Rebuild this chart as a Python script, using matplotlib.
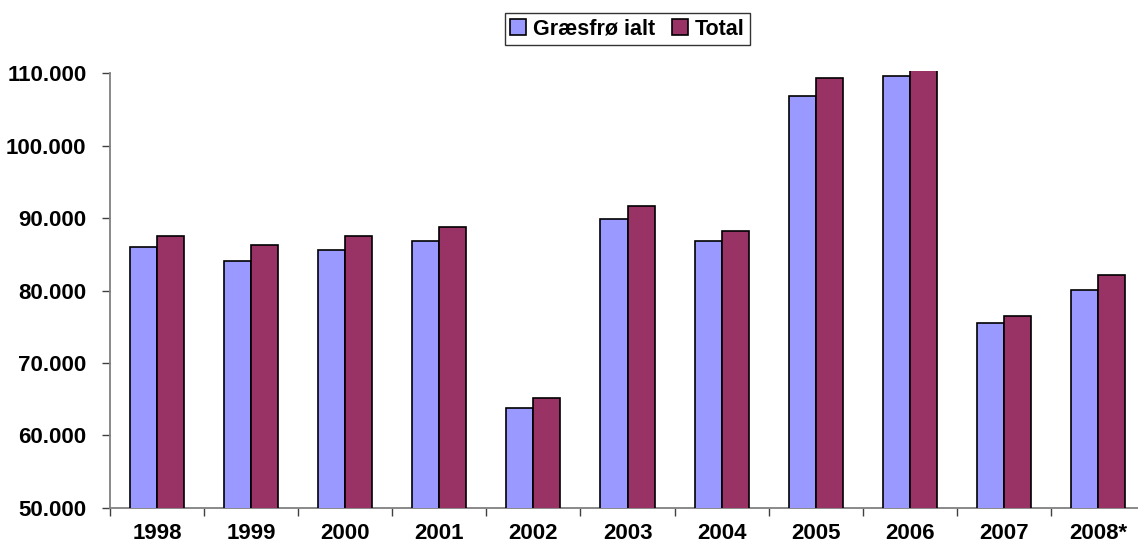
import matplotlib
matplotlib.use("Agg")
import matplotlib.pyplot as plt
import numpy as np

years = ["1998", "1999", "2000", "2001", "2002", "2003", "2004", "2005", "2006", "2007", "2008*"]
graesfro = [85970, 84120, 85600, 86800, 63770, 89920, 86880, 106870, 109580, 75470, 80070]
total = [87530, 86330, 87530, 88730, 65190, 91710, 88180, 109350, 111200, 76520, 82100]
series_names = ["Græsfrø ialt", "Total"]
yticks = [50000, 60000, 70000, 80000, 90000, 100000, 110000]
ytick_labels = ["50.000", "60.000", "70.000", "80.000", "90.000", "100.000", "110.000"]

plt.rcParams['font.family'] = ['Liberation Sans', 'DejaVu Sans']
plt.rcParams['font.weight'] = 'bold'

fig = plt.figure(figsize=(11.38, 5.48), dpi=100)
W, H = 1138, 548
left_px, right_px, bottom_px, top_px = 110, 1145, 507.7, 71
ax = fig.add_axes([left_px / W, (H - bottom_px) / H, (right_px - left_px) / W, (bottom_px - top_px) / H])

x = np.arange(len(years))
bw = 0.287
blue = "#9999FF"
red = "#993366"
ax.bar(x - bw / 2, graesfro, width=bw, color=blue, edgecolor="black", linewidth=1.2, label=series_names[0], zorder=3)
ax.bar(x + bw / 2, total, width=bw, color=red, edgecolor="black", linewidth=1.2, label=series_names[1], zorder=3)

ax.set_xlim(-0.5, len(years) - 0.5)
ax.set_ylim(50000, 110318)

ax.set_yticks(yticks)
ax.set_yticklabels(ytick_labels, fontsize=16, fontweight='bold')
ax.set_xticks(np.arange(-0.5, len(years), 1.0))
ax.set_xticklabels([])
ax.set_xticks(x, minor=True)
ax.set_xticklabels(years, minor=True, fontsize=16, fontweight='bold')
ax.tick_params(axis='x', which='minor', length=0, pad=11)
ax.tick_params(axis='x', which='major', length=6, width=1, color='#404040', direction='out')
ax.tick_params(axis='y', length=6, width=1, color='#404040', direction='out', pad=11)

for s in ['top', 'right']:
    ax.spines[s].set_visible(False)
for s in ['left', 'bottom']:
    ax.spines[s].set_color('#808080')
    ax.spines[s].set_linewidth(1.3)
ax.spines['left'].set_bounds(50000, 110000)

leg = ax.legend(loc='upper center', bbox_to_anchor=(0.5, 1.0 + (top_px - 13.3) / (bottom_px - top_px)),
                ncol=2, frameon=True, fancybox=False, shadow=False,
                prop={'family': 'Liberation Sans', 'weight': 'bold', 'size': 15.5},
                handlelength=0.75, handleheight=0.75, handletextpad=0.3, columnspacing=0.8,
                borderpad=0.25, borderaxespad=0)
leg.get_frame().set_edgecolor('black')
leg.get_frame().set_linewidth(1.0)

fig.savefig("out.png", dpi=100)
